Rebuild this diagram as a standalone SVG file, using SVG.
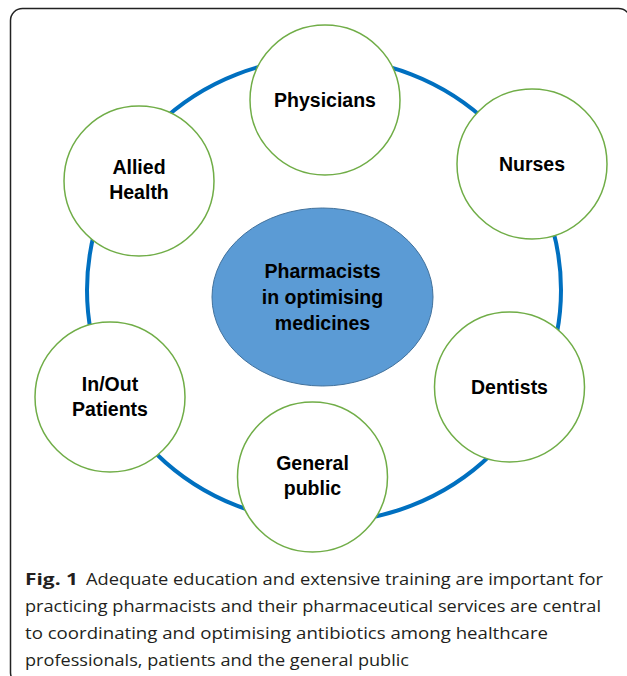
<svg xmlns="http://www.w3.org/2000/svg" width="627" height="676" viewBox="0 0 627 676">
<style>
.node{fill:#fff;stroke:#70AD47;stroke-width:1.5}
.lbl{font-family:"Liberation Sans",Arial,sans-serif;font-weight:bold;font-size:19.5px;fill:#000;text-anchor:middle}
.cap{font-family:"Open Sans","Noto Sans",sans-serif;font-size:16.5px;fill:#231F20}
</style>
<rect x="10.5" y="8.5" width="620" height="676" rx="12" fill="#fff" stroke="#222" stroke-width="1.5"/>
<g id="connectors">
<ellipse cx="324" cy="290" rx="237" ry="232" fill="none" stroke="#0070C0" stroke-width="4"/>
</g>
<g id="center">
<ellipse cx="322.5" cy="297" rx="110.5" ry="89" fill="#5B9BD5" stroke="#41719C" stroke-width="1"/>
<text class="lbl" x="322.5" y="278">Pharmacists</text>
<text class="lbl" x="322.5" y="304">in optimising</text>
<text class="lbl" x="322.5" y="330">medicines</text>
</g>
<g id="physicians">
<circle class="node" cx="325" cy="100" r="75"/>
<text class="lbl" x="325" y="107">Physicians</text>
</g>
<g id="nurses">
<circle class="node" cx="532" cy="164" r="75"/>
<text class="lbl" x="532" y="171">Nurses</text>
</g>
<g id="allied">
<circle class="node" cx="139" cy="181" r="75"/>
<text class="lbl" x="139" y="174">Allied</text>
<text class="lbl" x="139" y="199">Health</text>
</g>
<g id="inout">
<circle class="node" cx="110" cy="397" r="75"/>
<text class="lbl" x="110" y="391">In/Out</text>
<text class="lbl" x="110" y="416">Patients</text>
</g>
<g id="general">
<circle class="node" cx="312.5" cy="477" r="75"/>
<text class="lbl" x="312.5" y="470">General</text>
<text class="lbl" x="312.5" y="495">public</text>
</g>
<g id="dentists">
<circle class="node" cx="509.5" cy="387" r="75"/>
<text class="lbl" x="509.5" y="394">Dentists</text>
</g>
<g id="caption">
<text class="cap" x="25" y="585" font-weight="bold" textLength="53" lengthAdjust="spacingAndGlyphs">Fig. 1</text>
<text class="cap" x="86" y="585" textLength="517" lengthAdjust="spacingAndGlyphs">Adequate education and extensive training are important for</text>
<text class="cap" x="25" y="612" textLength="576" lengthAdjust="spacingAndGlyphs">practicing pharmacists and their pharmaceutical services are central</text>
<text class="cap" x="25" y="639" textLength="523" lengthAdjust="spacingAndGlyphs">to coordinating and optimising antibiotics among healthcare</text>
<text class="cap" x="25" y="666" textLength="384" lengthAdjust="spacingAndGlyphs">professionals, patients and the general public</text>
</g>
</svg>
